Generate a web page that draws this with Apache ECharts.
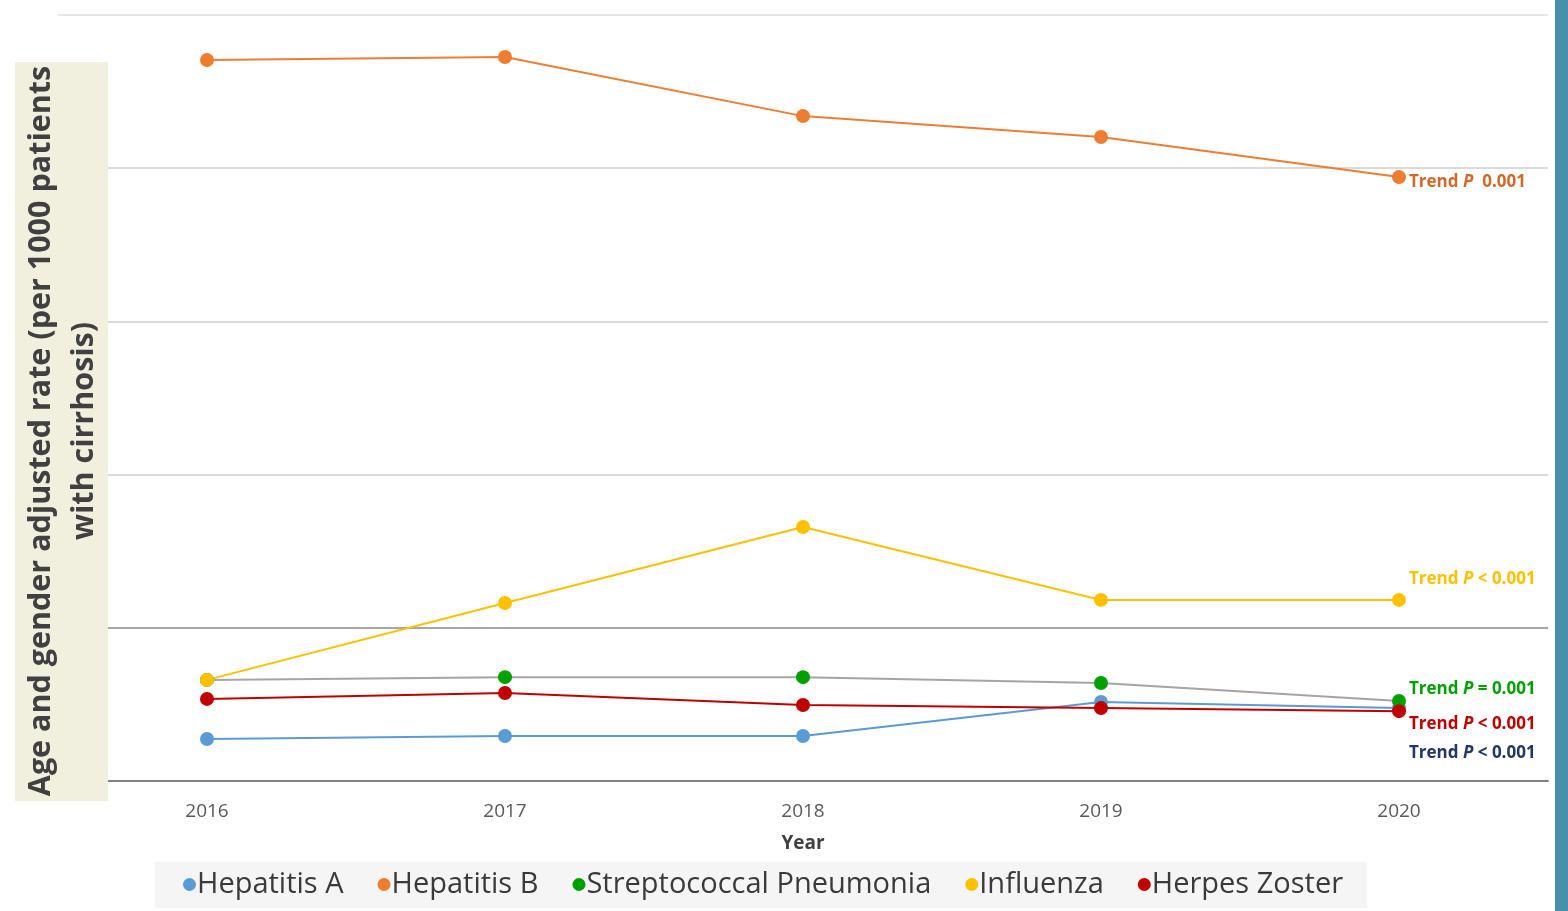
<!DOCTYPE html>
<html>
<head>
<meta charset="utf-8">
<script src="https://cdn.jsdelivr.net/npm/echarts@6/dist/echarts.min.js"></script>
<style>
html,body{margin:0;padding:0;background:#fff;}
#chart{width:1568px;height:911px;}
</style>
</head>
<body>
<div id="chart"></div>
<script>
const years = ['2016', '2017', '2018', '2019', '2020'];
const hepatitisA = [1.37, 1.47, 1.47, 2.58, 2.38];
const hepatitisB = [23.53, 23.63, 21.70, 21.02, 19.71];
const strepPneumonia = [3.30, 3.39, 3.39, 3.20, 2.61];
const influenza = [3.30, 5.81, 8.29, 5.91, 5.91];
const herpesZoster = [2.68, 2.87, 2.48, 2.38, 2.28];
const seriesNames = ['Hepatitis A', 'Hepatitis B', 'Streptococcal Pneumonia', 'Influenza', 'Herpes Zoster'];
const trendLabels = ['< 0.001', ' 0.001', '= 0.001', '< 0.001', '< 0.001'];

const FONT = 'Open Sans';
const chart = echarts.init(document.getElementById('chart'));

function withTrend(values, idx, color, offsetY) {
  return values.map((v, i) => {
    if (i !== values.length - 1) return v;
    return {
      value: v,
      label: {
        show: true,
        position: 'right',
        distance: 3,
        offset: [0, offsetY],
        formatter: '{a|Trend }{p|P}{a| ' + trendLabels[idx] + '}',
        rich: {
          a: { fontFamily: FONT, fontWeight: 'bold', fontSize: 17, color: color },
          p: { fontFamily: FONT, fontWeight: 'bold', fontStyle: 'italic', fontSize: 17, color: color }
        }
      }
    };
  });
}

function mkSeries(name, values, lineColor, markerColor, idx, labelColor, offsetY) {
  return {
    name: name,
    type: 'line',
    data: withTrend(values, idx, labelColor, offsetY),
    symbol: 'circle',
    symbolSize: 14,
    lineStyle: { color: lineColor, width: 2 },
    itemStyle: { color: markerColor },
    emphasis: { disabled: true },
    animation: false
  };
}

chart.setOption({
  backgroundColor: '#ffffff',
  animation: false,
  grid: { left: 58, right: 20, top: 15, bottom: 130 },
  xAxis: {
    type: 'category',
    data: years,
    boundaryGap: true,
    axisTick: { show: false },
    axisLine: { lineStyle: { color: '#808080', width: 2 } },
    axisLabel: { fontFamily: FONT, fontSize: 19, color: '#595959', margin: 21 },
    name: 'Year',
    nameLocation: 'middle',
    nameGap: 53,
    nameTextStyle: { fontFamily: FONT, fontSize: 19, fontWeight: 'bold', color: '#404040' }
  },
  yAxis: {
    type: 'value',
    min: 0,
    max: 25,
    interval: 5,
    axisLabel: { show: false },
    axisLine: { show: false },
    axisTick: { show: false },
    splitLine: { lineStyle: { color: ['#808080', '#a6a6a6', '#d9d9d9', '#d9d9d9', '#d9d9d9', '#e6e6e6'], width: 2 } }
  },
  legend: {
    data: seriesNames.map(n => ({ name: n, icon: 'circle' })),
    left: 155,
    top: 862,
    backgroundColor: '#f5f5f5',
    padding: [8, 24, 9, 28],
    itemWidth: 13,
    itemHeight: 13,
    itemGap: 34,
    textStyle: { fontFamily: FONT, fontSize: 29, color: '#3a3a3a', padding: [0, 0, 0, -4] }
  },
  series: [
    mkSeries(seriesNames[0], hepatitisA, '#5b9bd5', '#5b9bd5', 0, '#1f3864', 45),
    mkSeries(seriesNames[1], hepatitisB, '#ed7d31', '#ed7d31', 1, '#d0692a', 5),
    mkSeries(seriesNames[2], strepPneumonia, '#a5a5a5', '#00a000', 2, '#00a000', -12),
    mkSeries(seriesNames[3], influenza, '#ffc000', '#ffc000', 3, '#ffc000', -21),
    mkSeries(seriesNames[4], herpesZoster, '#c00000', '#c00000', 4, '#c00000', 13)
  ],
  graphic: [
    {
      type: 'rect',
      left: 15, top: 62,
      shape: { width: 93, height: 739 },
      style: { fill: '#f1f0de' },
      z: 100
    },
    {
      type: 'text',
      x: 63, y: 431,
      rotation: Math.PI / 2,
      style: {
        text: 'Age and gender adjusted rate (per 1000 patients\nwith cirrhosis)',
        font: 'bold 30.5px "Open Sans"',
        fill: '#404040',
        align: 'center',
        verticalAlign: 'middle',
        lineHeight: 43
      },
      z: 101
    },
    {
      type: 'rect',
      left: 1555, top: 0,
      shape: { width: 13, height: 911 },
      style: { fill: '#4690aa' },
      z: 100
    }
  ]
});
</script>
</body>
</html>
